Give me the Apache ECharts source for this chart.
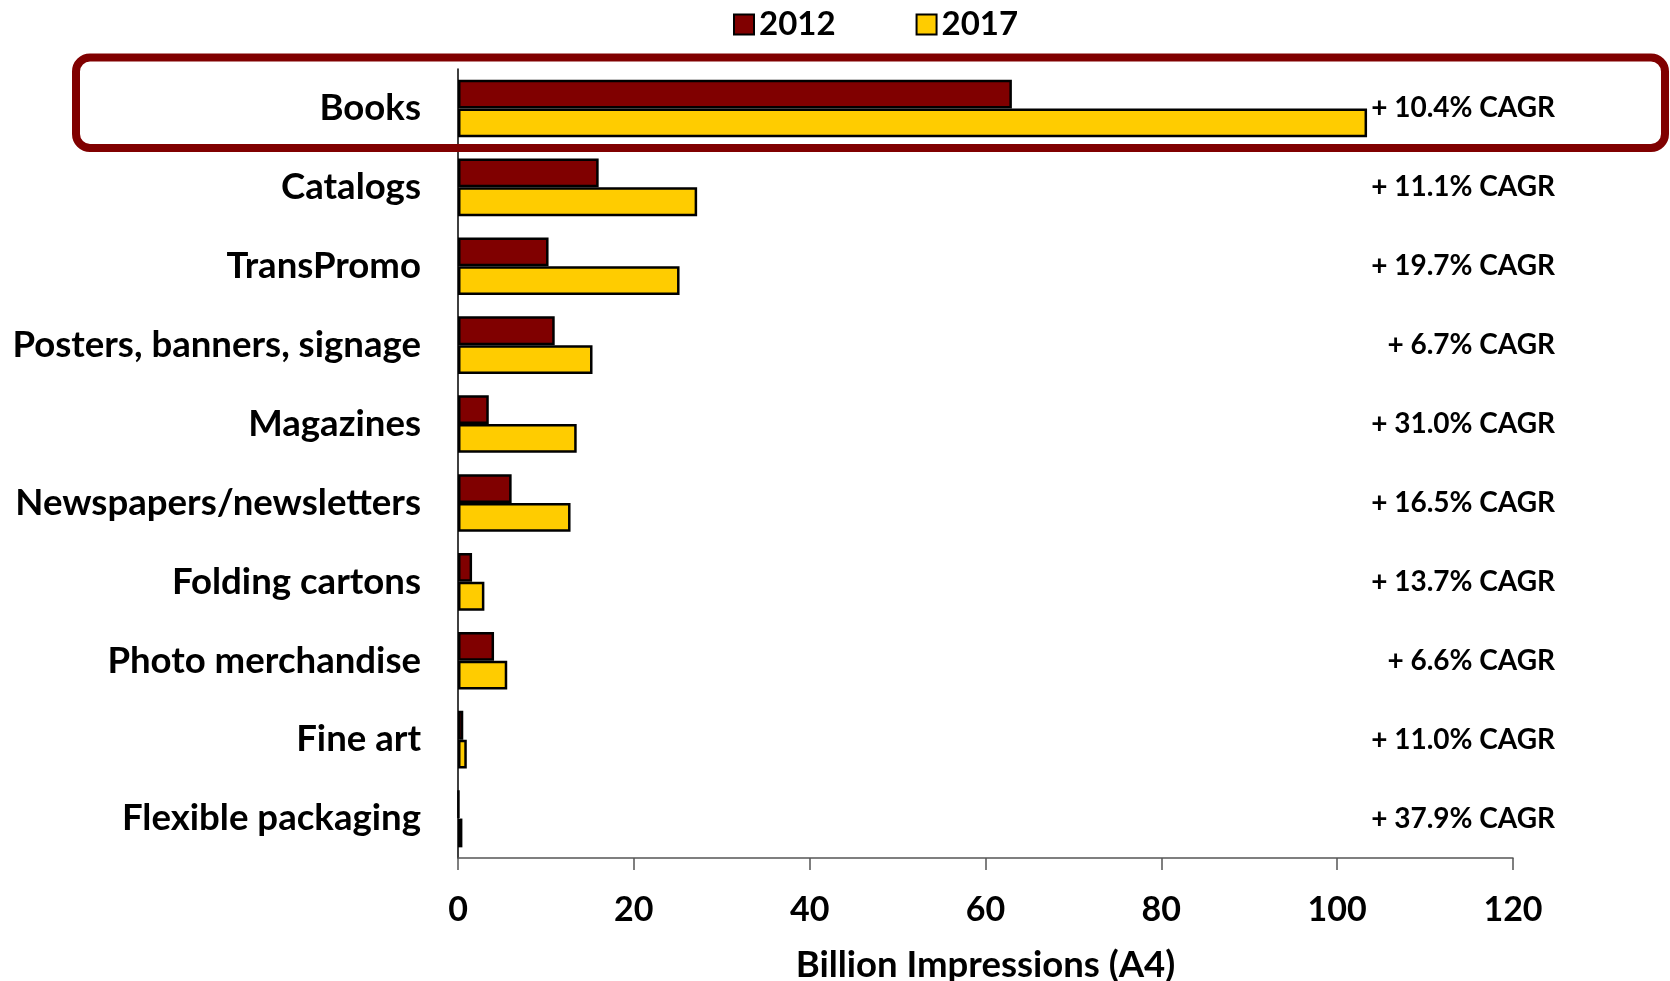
<!DOCTYPE html>
<html>
<head>
<meta charset="utf-8">
<script src="https://cdn.jsdelivr.net/npm/echarts@6/dist/echarts.min.js"></script>
<style>
  html, body { margin: 0; padding: 0; background: #ffffff; }
  #chart { width: 1670px; height: 981px; }
</style>
</head>
<body>
<div id="chart"></div>
<script>
// Digital print volumes by application, 2012 vs 2017
const categories = [
  'Books', 'Catalogs', 'TransPromo', 'Posters, banners, signage', 'Magazines',
  'Newspapers/newsletters', 'Folding cartons', 'Photo merchandise', 'Fine art',
  'Flexible packaging'
];
const values2012 = [63.0, 16.0, 10.3, 11.0, 3.5, 6.1, 1.6, 4.1, 0.6, 0.1];
const values2017 = [103.4, 27.2, 25.2, 15.3, 13.5, 12.8, 3.0, 5.6, 1.0, 0.5];
const cagrLabels = [
  '+ 10.4% CAGR', '+ 11.1% CAGR', '+ 19.7% CAGR', '+ 6.7% CAGR', '+ 31.0% CAGR',
  '+ 16.5% CAGR', '+ 13.7% CAGR', '+ 6.6% CAGR', '+ 11.0% CAGR', '+ 37.9% CAGR'
];
const xTicks = [0, 20, 40, 60, 80, 100, 120];

const FONT = 'Lato, "Open Sans", "Liberation Sans", sans-serif';
const chart = echarts.init(document.getElementById('chart'), null, { renderer: 'canvas' });

chart.setOption({
  backgroundColor: '#ffffff',
  animation: false,
  textStyle: { fontFamily: FONT, fontWeight: 'bold', color: '#000' },
  legend: {
    top: 3,
    left: 728,
    itemWidth: 20,
    itemHeight: 20,
    itemGap: 80,
    icon: 'rect',
    textStyle: { fontFamily: FONT, fontWeight: 'bold', fontSize: 33, color: '#000' },
    data: ['2012', '2017']
  },
  grid: {
    left: 458, right: 157, top: 69, bottom: 123,
    containLabel: false,
    outerBoundsMode: 'none'
  },
  xAxis: {
    type: 'value',
    min: xTicks[0],
    max: xTicks[xTicks.length - 1],
    interval: xTicks[1] - xTicks[0],
    name: 'Billion Impressions (A4)',
    nameLocation: 'middle',
    nameGap: 89,
    nameTextStyle: { fontFamily: FONT, fontWeight: 'bold', fontSize: 36.5, color: '#000' },
    axisLine: { show: true, lineStyle: { color: '#555555', width: 1.5 } },
    axisTick: { show: true, inside: false, length: 12, lineStyle: { color: '#555555', width: 1.5 } },
    axisLabel: { margin: 35, fontFamily: FONT, fontWeight: 'bold', fontSize: 34, color: '#000' },
    splitLine: { show: false }
  },
  yAxis: [
    {
      type: 'category',
      inverse: true,
      data: categories,
      axisLine: { show: true, lineStyle: { color: '#000', width: 1.5 } },
      axisTick: { show: false },
      axisLabel: { margin: 37, fontFamily: FONT, fontWeight: 'bold', fontSize: 36.6, color: '#000' }
    },
    {
      type: 'category',
      inverse: true,
      position: 'right',
      data: cagrLabels,
      axisLine: { show: false },
      axisTick: { show: false },
      axisLabel: {
        margin: 42,
        align: 'right',
        padding: [0, 0, 12, 0],
        fontFamily: FONT, fontWeight: 'bold', fontSize: 28, color: '#000'
      }
    }
  ],
  series: [
    {
      name: '2012',
      type: 'bar',
      yAxisIndex: 0,
      data: values2012,
      barGap: '0%',
      barCategoryGap: '27%',
      itemStyle: { color: '#800000', borderColor: '#000', borderWidth: 2.5 }
    },
    {
      name: '2017',
      type: 'bar',
      yAxisIndex: 0,
      data: values2017,
      barGap: '0%',
      barCategoryGap: '27%',
      itemStyle: { color: '#FFCC00', borderColor: '#000', borderWidth: 2.5 }
    }
  ],
  graphic: [
    {
      // highlight frame around the leading category
      type: 'rect',
      shape: { x: 76, y: 57.5, width: 1589, height: 90.5, r: 14 },
      style: { fill: 'none', stroke: '#800000', lineWidth: 8 },
      z: 10
    }
  ]
});
</script>
</body>
</html>
